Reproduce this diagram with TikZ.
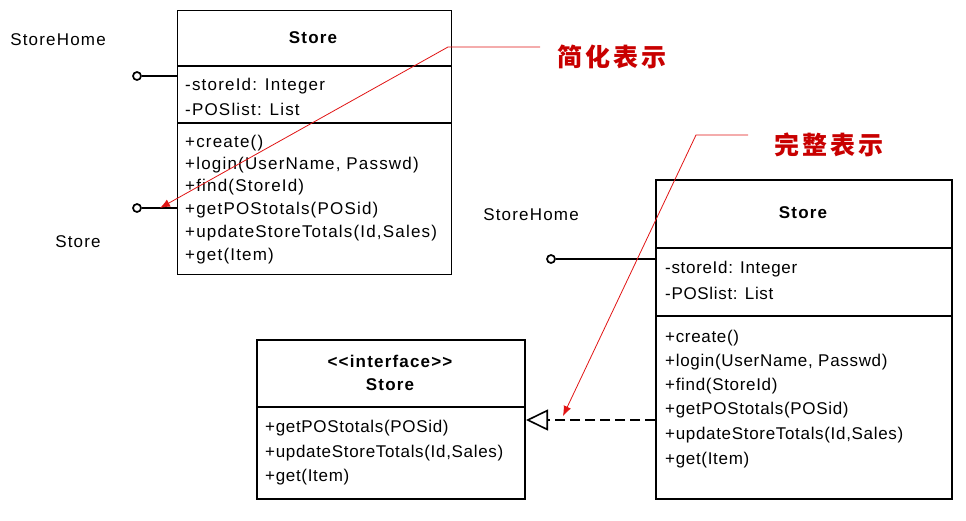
\documentclass[tikz,border=0pt]{standalone}
\usepackage{fontspec}
\setmainfont{Liberation Sans}
\newfontfamily\umlA[LetterSpace=7]{Liberation Sans}
\newfontfamily\umlB[LetterSpace=4]{Liberation Sans}
\newfontfamily\cjkfont[LetterSpace=12]{Noto Sans CJK SC}
\usetikzlibrary{arrows.meta}
\definecolor{annred}{RGB}{200,0,0}
\definecolor{linered}{RGB}{225,20,20}
\begin{document}
\begin{tikzpicture}[x=1pt,y=-1pt,
  box/.style={draw, line width=1.3pt, anchor=north west, inner sep=0pt, fill=white},
  rbox/.style={box, line width=2pt},
  sepline/.style={line width=1.3pt},
  rsepline/.style={line width=2pt},
  txt/.style={anchor=west, inner sep=0pt, font=\umlA\fontsize{17}{20}\selectfont},
  rtxt/.style={anchor=west, inner sep=0pt, font=\umlB\fontsize{17}{20}\selectfont},
  ttl/.style={inner sep=0pt, font=\umlA\bfseries\fontsize{17}{20}\selectfont},
  lbl/.style={inner sep=0pt, font=\umlA\fontsize{17}{20}\selectfont},
  lolli/.style={circle, draw, line width=1.7pt, minimum size=8pt, inner sep=0pt, fill=white},
  annline/.style={draw=linered, line width=0.8pt},
  cjk/.style={inner sep=0pt, text=annred, font=\cjkfont\bfseries\fontsize{25}{27}\selectfont}
]
\useasboundingbox (0,0) rectangle (966,520);

% ---------- simplified (left) ----------
\node[box, minimum width=274pt, minimum height=264pt] (L) at (177,10) {};
\draw[sepline] (177,66) -- (451,66);
\draw[sepline] (177,123) -- (451,123);
\node[ttl] (Lt) at (313,38) {Store};
\node[txt] (La1) at (185,86) {-storeId: Integer};
\node[txt] (La2) at (185,109) {-POSlist: List};
\node[txt] (Lm1) at (185,143) {+create()};
\node[txt] (Lm2) at (185,165) {+login(UserName, Passwd)};
\node[txt] (Lm3) at (185,187) {+find(StoreId)};
\node[txt] (Lm4) at (185,210) {+getPOStotals(POSid)};
\node[txt] (Lm5) at (185,233) {+updateStoreTotals(Id,Sales)};
\node[txt] (Lm6) at (185,256) {+get(Item)};

\node[lolli] (LSH) at (137,76) {};
\node[lolli] (LST) at (137,208) {};
\draw[line width=1.1pt] (LSH) -- (L.west |- LSH);
\draw[line width=1.1pt] (LST) -- (L.west |- LST);
\node[lbl] (LSHl) at (58,40) {StoreHome};
\node[lbl] (LSTl) at (78,242) {Store};

% ---------- full (right) ----------
\node[rbox, minimum width=296pt, minimum height=319pt] (R) at (655,179) {};
\draw[rsepline] (655,248) -- (951,248);
\draw[rsepline] (655,316) -- (951,316);
\node[ttl] (Rt) at (803,213) {Store};
\node[rtxt] (Ra1) at (665,269) {-storeId: Integer};
\node[rtxt] (Ra2) at (665,293) {-POSlist: List};
\node[rtxt] (Rm1) at (665,338) {+create()};
\node[rtxt] (Rm2) at (665,362) {+login(UserName, Passwd)};
\node[rtxt] (Rm3) at (665,386) {+find(StoreId)};
\node[rtxt] (Rm4) at (665,410) {+getPOStotals(POSid)};
\node[rtxt] (Rm5) at (665,435) {+updateStoreTotals(Id,Sales)};
\node[rtxt] (Rm6) at (665,460) {+get(Item)};

\node[lolli] (RSH) at (551,259) {};
\draw[line width=2pt] (RSH) -- (R.west |- RSH);
\node[lbl] (RSHl) at (531,215) {StoreHome};

% ---------- interface ----------
\node[rbox, minimum width=268pt, minimum height=159pt] (I) at (256,339) {};
\draw[rsepline] (256,407) -- (524,407);
\node[ttl] (It1) at (390,361) {<<interface>>};
\node[ttl] (It2) at (390,385) {Store};
\node[rtxt] (Im1) at (265,428) {+getPOStotals(POSid)};
\node[rtxt] (Im2) at (265,453) {+updateStoreTotals(Id,Sales)};
\node[rtxt] (Im3) at (265,477) {+get(Item)};

\coordinate (Rdep) at (655,420);
\draw[line width=2.6pt, dash pattern=on 10pt off 5pt,
  -{Triangle[open,length=22pt,width=21pt,line width=1.6pt]}] (Rdep) -- (I.east |- Rdep);

% ---------- annotations ----------
\node[cjk] (A1) at (612,57) {简化表示};
\coordinate (A1a) at (540,47);
\coordinate (A1b) at (448,47);
\coordinate (A1tip) at (160,208);
\draw[annline, -{Latex[length=10pt,width=8pt]}] (A1a) -- (A1b) -- (A1tip);

\node[cjk] (A2) at (829,145) {完整表示};
\coordinate (A2a) at (748,135);
\coordinate (A2b) at (696,135);
\coordinate (A2tip) at (563,416);
\draw[annline, -{Latex[length=10pt,width=8pt]}] (A2a) -- (A2b) -- (A2tip);
\end{tikzpicture}
\end{document}
